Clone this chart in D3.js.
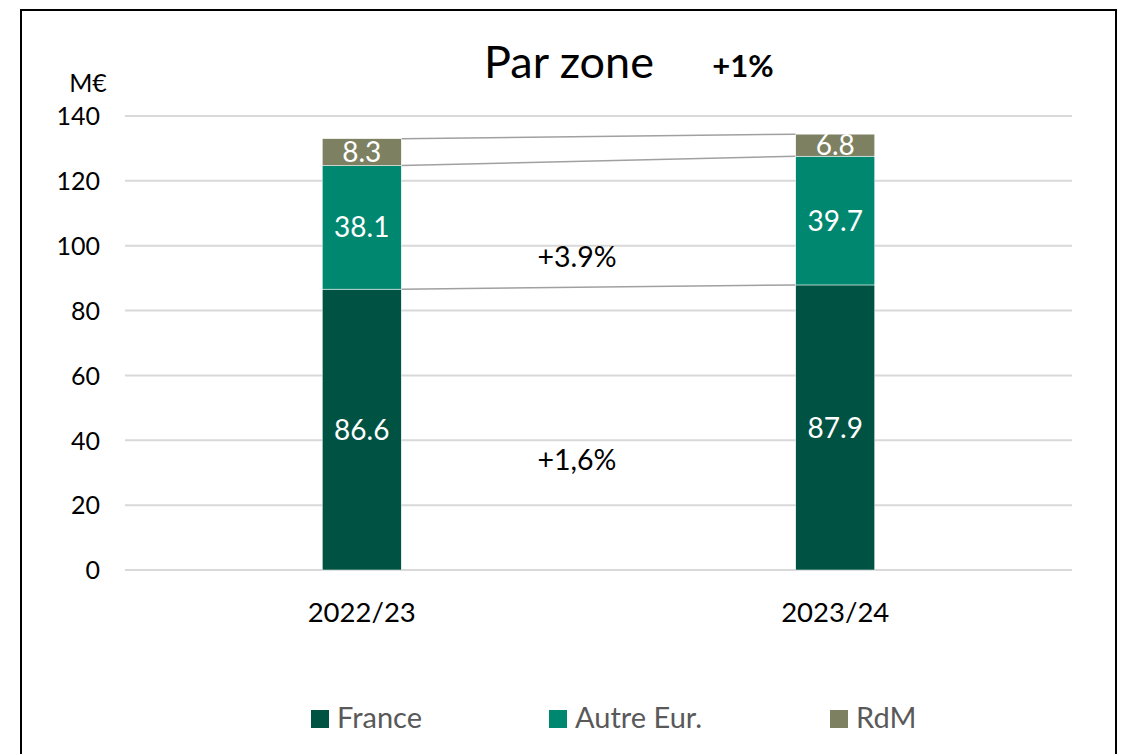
<!DOCTYPE html>
<html>
<head>
<meta charset="utf-8">
<script src="https://cdn.jsdelivr.net/npm/d3@7"></script>
<style>
body { margin: 0; background: #fff; }
text { font-family: Lato, "Open Sans", sans-serif; }
</style>
</head>
<body>
<div id="chart"></div>
<script>
const years = ['2022/23', '2023/24'];
const zones = ['France', 'Autre Eur.', 'RdM'];
const france = [86.6, 87.9];
const autre = [38.1, 39.7];
const rdm = [8.3, 6.8];
const yTicks = [0, 20, 40, 60, 80, 100, 120, 140];
const colors = ['#005343', '#008770', '#7d8162'];
const growthLabels = [{text: '+1,6%', v: 34}, {text: '+3.9%', v: 96.5}];

const width = 1125, height = 754;

const svg = d3.select('#chart')
              .append('svg')
              .attr('width', width)
              .attr('height', height);

// outer frame
svg.append('rect')
   .attr('x', 21).attr('y', 10)
   .attr('width', 1095).attr('height', 760)
   .style('fill', 'none')
   .style('stroke', '#000')
   .style('stroke-width', 2);

let scaleX = d3.scaleBand().domain(years).range([125, 1072]).paddingInner(0).paddingOuter(0);
let scaleY = d3.scaleLinear().domain([0, 140]).range([570, 116]);
const barW = 79;

// gridlines
svg.selectAll('.grid')
   .data(yTicks)
   .enter()
   .append('line')
   .attr('x1', 125).attr('x2', 1072)
   .attr('y1', d => scaleY(d)).attr('y2', d => scaleY(d))
   .style('stroke', '#d9d9d9')
   .style('stroke-width', 2);

let yAxis = d3.axisLeft(scaleY).tickValues(yTicks).tickSize(0).tickPadding(0);
let yAxisGroup = svg.append('g')
                    .attr('transform', 'translate(100,0)')
                    .call(yAxis);
yAxisGroup.select('.domain').remove();
yAxisGroup.selectAll('text')
          .style('font-size', '25px')
          .style('font-family', 'Lato, sans-serif')
          .style('fill', '#000')
          .attr('dy', '0.35em');

svg.append('text')
   .attr('x', 88).attr('y', 92)
   .style('text-anchor', 'middle')
   .style('font-size', '25px')
   .text('M€');

// stacked data
let table = years.map((y, i) => ({year: y, 'France': france[i], 'Autre Eur.': autre[i], 'RdM': rdm[i]}));
let stacked = d3.stack().keys(zones)(table);

// connector lines between bar tops
stacked.forEach(layer => {
    svg.append('line')
       .attr('x1', scaleX(years[0]) + scaleX.bandwidth()/2 + barW/2)
       .attr('y1', scaleY(layer[0][1]))
       .attr('x2', scaleX(years[1]) + scaleX.bandwidth()/2 - barW/2)
       .attr('y2', scaleY(layer[1][1]))
       .style('stroke', '#a0a0a0')
       .style('stroke-width', 1.5);
});

let groups = svg.selectAll('.layer')
                .data(stacked)
                .enter()
                .append('g')
                .style('fill', (d, i) => colors[i]);

groups.selectAll('rect')
      .data(d => d)
      .enter()
      .append('rect')
      .attr('x', d => scaleX(d.data.year) + scaleX.bandwidth()/2 - barW/2)
      .attr('y', d => scaleY(d[1]))
      .attr('width', barW)
      .attr('height', d => scaleY(d[0]) - scaleY(d[1]))
      .style('stroke', '#ffffff')
      .style('stroke-width', 0.5);

groups.selectAll('.lbl')
      .data(d => d)
      .enter()
      .append('text')
      .attr('x', d => scaleX(d.data.year) + scaleX.bandwidth()/2)
      .attr('y', d => (scaleY(d[0]) + scaleY(d[1]))/2)
      .attr('dy', '0.36em')
      .style('text-anchor', 'middle')
      .style('fill', '#fff')
      .style('font-size', '28px')
      .text(d => (d[1] - d[0]).toFixed(1));

// growth annotations
svg.selectAll('.growth')
   .data(growthLabels)
   .enter()
   .append('text')
   .attr('x', 577)
   .attr('y', d => scaleY(d.v))
   .attr('dy', '0.36em')
   .style('text-anchor', 'middle')
   .style('font-size', '28.5px')
   .text(d => d.text);

// x labels
svg.selectAll('.xlbl')
   .data(years)
   .enter()
   .append('text')
   .attr('x', d => scaleX(d) + scaleX.bandwidth()/2)
   .attr('y', 622)
   .style('text-anchor', 'middle')
   .style('font-size', '27.5px')
   .text(d => d);

// title
svg.append('text')
   .attr('x', 569).attr('y', 78)
   .style('text-anchor', 'middle')
   .style('font-size', '45px')
   .text('Par zone');
svg.append('text')
   .attr('x', 743).attr('y', 77)
   .style('text-anchor', 'middle')
   .style('font-size', '31px')
   .style('font-weight', 'bold')
   .text('+1%');

// legend
const legendX = [311, 549, 830];
let legend = svg.selectAll('.legend')
                .data(zones)
                .enter()
                .append('g')
                .attr('transform', (d, i) => 'translate(' + legendX[i] + ',710)');
legend.append('rect')
      .attr('width', 18).attr('height', 18)
      .style('fill', (d, i) => colors[i]);
legend.append('text')
      .attr('x', 26).attr('y', 18)
      .style('font-size', '29px')
      .style('fill', '#595959')
      .text(d => d);
</script>
</body>
</html>
